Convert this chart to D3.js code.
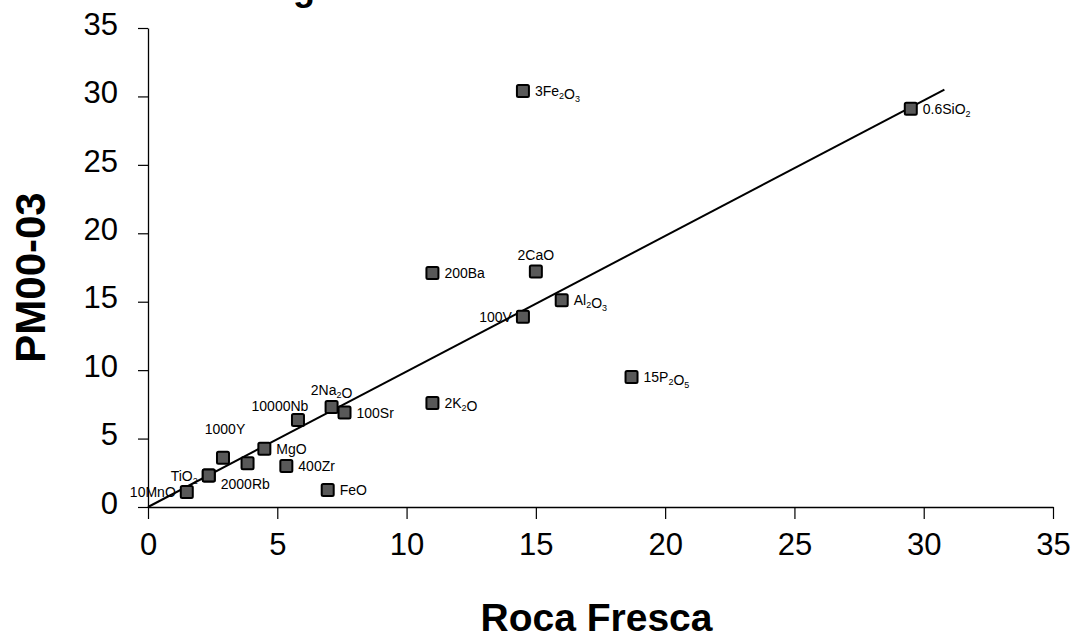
<!DOCTYPE html>
<html>
<head>
<meta charset="utf-8">
<script src="https://cdn.jsdelivr.net/npm/d3@7"></script>
<style>
  body { margin: 0; background: #fff; }
  text { font-family: Arial, "Liberation Sans", sans-serif; }
</style>
</head>
<body>
<div id="chart"></div>
<script>
// data
var names  = ["3Fe2O3", "0.6SiO2", "200Ba", "2CaO", "Al2O3", "100V", "15P2O5", "2K2O", "100Sr",
              "2Na2O", "10000Nb", "1000Y", "MgO", "", "400Zr", "TiO2", "2000Rb", "10MnO", "FeO"];
var rocaFresca = [14.5, 29.5, 11.0, 15.0, 16.0, 14.5, 18.7, 11.0, 7.6,
                  7.1, 5.8, 2.9, 4.5, 3.85, 5.35, 2.35, 2.35, 1.5, 6.95];
var pm0003     = [30.4, 29.1, 17.1, 17.2, 15.1, 13.9, 9.5, 7.6, 6.9,
                  7.3, 6.35, 3.6, 4.25, 3.2, 3.0, 2.3, 2.3, 1.1, 1.25];
// where each label sits relative to its marker
var labelSide  = ["r", "r", "r", "t", "r", "l", "r", "r", "r",
                  "tn", "tl", "tt", "r", "r", "r", "l", "br", "l", "r"];
var xTicks = [0, 5, 10, 15, 20, 25, 30, 35];
var yTicks = [0, 5, 10, 15, 20, 25, 30, 35];
var isoconLine = [[0, 0], [30.8, 30.5]];

var W = 1077, H = 639;
var margin = {left: 148, right: 24, top: 28, bottom: 132};

var svg = d3.select("#chart").append("svg")
    .attr("width", W).attr("height", H);

var x = d3.scaleLinear().domain([0, 35]).range([margin.left, W - margin.right]);
var y = d3.scaleLinear().domain([0, 35]).range([H - margin.bottom, margin.top]);

// title, mostly cut off above the page
svg.append("text")
    .attr("x", 237).attr("y", 0)
    .style("font-size", "36px").style("font-weight", "bold")
    .text("Diagrama Isocon");

// axes
var xAxis = svg.append("g")
    .attr("transform", "translate(0," + y(0) + ")")
    .call(d3.axisBottom(x).tickValues(xTicks).tickSize(12).tickSizeOuter(0).tickPadding(14));
var yAxis = svg.append("g")
    .attr("transform", "translate(" + x(0) + ",0)")
    .call(d3.axisLeft(y).tickValues(yTicks).tickSize(10).tickSizeOuter(0).tickPadding(20));
[xAxis, yAxis].forEach(function(a) {
  a.select(".domain").attr("stroke", "#000").attr("stroke-width", 1.3);
  a.selectAll(".tick line").attr("stroke", "#000").attr("stroke-width", 1.2);
  a.selectAll(".tick text").attr("fill", "#000")
      .style("font-size", "31px").style("font-family", "Arial, 'Liberation Sans', sans-serif");
});
yAxis.selectAll(".tick text").attr("dy", "0.2em");

// axis titles
svg.append("text")
    .attr("x", (x(0) + x(35)) / 2 - 4).attr("y", 631)
    .attr("text-anchor", "middle")
    .style("font-size", "39px").style("font-weight", "bold")
    .text("Roca Fresca");
svg.append("text")
    .attr("transform", "translate(45," + (y(17.5) + 10) + ") rotate(-90)")
    .attr("text-anchor", "middle")
    .style("font-size", "42px").style("font-weight", "bold")
    .text("PM00-03");

// isocon line
svg.append("line")
    .attr("x1", x(isoconLine[0][0])).attr("y1", y(isoconLine[0][1]))
    .attr("x2", x(isoconLine[1][0])).attr("y2", y(isoconLine[1][1]))
    .attr("stroke", "#000").attr("stroke-width", 2);

// points
var pts = names.map(function(n, i) {
  return {name: n, x: rocaFresca[i], y: pm0003[i], side: labelSide[i]};
});

var ms = 12;
svg.append("g").selectAll("rect").data(pts).enter().append("rect")
    .attr("x", function(d) { return x(d.x) - ms / 2; })
    .attr("y", function(d) { return y(d.y) - ms / 2; })
    .attr("width", ms).attr("height", ms)
    .attr("rx", 1.5)
    .attr("fill", "#595959").attr("stroke", "#000").attr("stroke-width", 2);

// labels with subscript digits after element symbols
function addLabel(sel, name) {
  var parts = name.match(/^(\d*\.?\d*)(.*)$/);
  var lead = parts[1], rest = parts[2];
  if (lead) sel.append("tspan").text(lead);
  var re = /([A-Z][a-z]?)(\d*)/g, m;
  while ((m = re.exec(rest)) !== null) {
    if (!m[0]) break;
    sel.append("tspan").text(m[1]);
    if (m[2]) {
      sel.append("tspan").attr("dy", 3).style("font-size", "9px").text(m[2]);
      sel.append("tspan").attr("dy", -3).text("");
    }
  }
}

var off = {
  r:  {dx: 12,  dy: 5,   a: "start"},
  l:  {dx: -11, dy: 5,   a: "end"},
  t:  {dx: 0,   dy: -12, a: "middle"},
  tn: {dx: 0,   dy: -12, a: "middle"},
  tl: {dx: -18, dy: -9,  a: "middle"},
  tt: {dx: 2,   dy: -24, a: "middle"},
  br: {dx: 12,  dy: 13,  a: "start"}
};

svg.append("g").selectAll("text").data(pts.filter(function(d) { return d.name; }))
  .enter().append("text")
    .attr("x", function(d) { return x(d.x) + off[d.side].dx; })
    .attr("y", function(d) { return y(d.y) + off[d.side].dy; })
    .attr("text-anchor", function(d) { return off[d.side].a; })
    .style("font-size", "14px")
    .attr("fill", "#000")
    .each(function(d) { addLabel(d3.select(this), d.name); });
</script>
</body>
</html>
